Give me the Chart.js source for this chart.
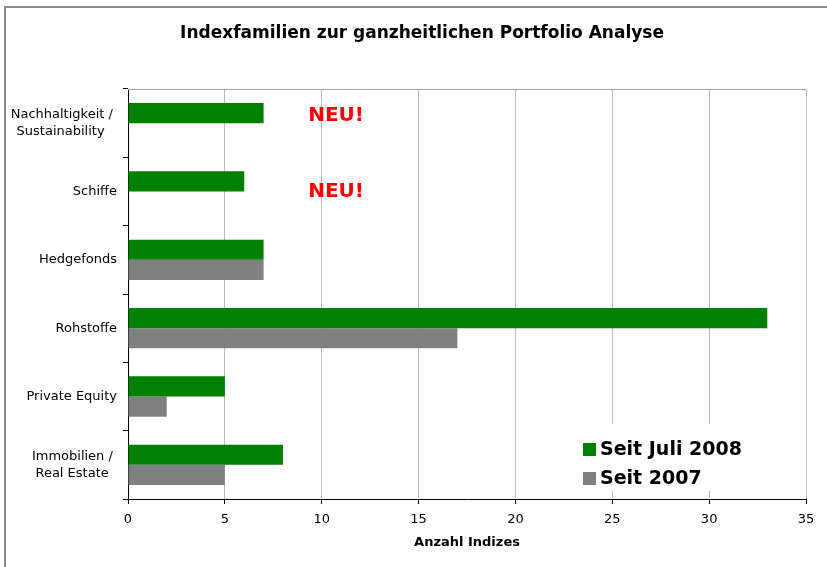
<!DOCTYPE html>
<html>
<head>
<meta charset="utf-8">
<script src="https://cdn.jsdelivr.net/npm/chart.js@4/dist/chart.umd.min.js"></script>
<style>
  html, body { margin: 0; padding: 0; background: #fff; overflow: hidden; }
  #chart { display: block; }
</style>
</head>
<body>
<canvas id="chart" width="827" height="567"></canvas>
<script>
const categories = [
  ['Nachhaltigkeit / ', 'Sustainability   '],
  'Schiffe',
  'Hedgefonds',
  'Rohstoffe',
  'Private Equity',
  ['Immobilien / ', 'Real Estate  ']
]
const seitJuli2008 = [7, 6, 7, 33, 5, 8]
const seit2007 = [null, null, 7, 17, 2, 5]
const xTicks = [0, 5, 10, 15, 20, 25, 30, 35]

const chartTitle = 'Indexfamilien zur ganzheitlichen Portfolio Analyse'
const axisTitle = 'Anzahl Indizes'

// frame, title, NEU! marks and the legend box
const extras = {
  id: 'extras',
  beforeDraw (chart) {
    const { ctx, width, height } = chart
    ctx.save()
    ctx.strokeStyle = '#8c8c8c'
    ctx.lineWidth = 2
    ctx.beginPath()
    ctx.moveTo(5, height)
    ctx.lineTo(5, 7)
    ctx.lineTo(width, 7)
    ctx.stroke()
    ctx.restore()
  },
  beforeDatasetsDraw (chart) {
    const { ctx, chartArea } = chart
    ctx.save()
    ctx.strokeStyle = '#a0a0a0'
    ctx.lineWidth = 1
    ctx.beginPath()
    ctx.moveTo(chartArea.left, chartArea.top + 0.5)
    ctx.lineTo(chartArea.right, chartArea.top + 0.5)
    ctx.stroke()
    ctx.restore()
  },
  afterDraw (chart) {
    const { ctx } = chart
    const x = chart.scales.x
    const y = chart.scales.y
    ctx.save()

    ctx.fillStyle = '#000'
    ctx.font = 'bold 17px "DejaVu Sans"'
    ctx.textAlign = 'center'
    ctx.textBaseline = 'middle'
    ctx.fillText(chartTitle, 422, 34)

    ctx.fillStyle = '#ff0000'
    ctx.font = 'bold 20px "DejaVu Sans"'
    ctx.textAlign = 'left'
    ctx.fillText('NEU!', x.getPixelForValue(9.3), y.getPixelForValue(0) - 7)
    ctx.fillText('NEU!', x.getPixelForValue(9.3), y.getPixelForValue(1))

    // legend sits inside the plot, over the gridlines
    ctx.fillStyle = '#fff'
    ctx.fillRect(578, 424, 170, 67)
    const ds = chart.data.datasets
    ctx.font = 'bold 19px "DejaVu Sans"'
    ds.forEach((d, i) => {
      const top = 443 + i * 29
      ctx.fillStyle = d.backgroundColor
      ctx.fillRect(583, top, 13, 13)
      ctx.fillStyle = '#000'
      ctx.fillText(d.label, 600, top + 7)
    })
    ctx.restore()
  }
}

Chart.defaults.font.family = '"DejaVu Sans"'
Chart.defaults.font.size = 13
Chart.defaults.color = '#000'

new Chart(document.getElementById('chart'), {
  type: 'bar',
  data: {
    labels: categories,
    datasets: [
      { label: 'Seit Juli 2008', data: seitJuli2008, backgroundColor: '#008000' },
      { label: 'Seit 2007', data: seit2007, backgroundColor: '#808080' }
    ]
  },
  options: {
    indexAxis: 'y',
    responsive: false,
    animation: false,
    layout: { padding: { top: 89, right: 21, bottom: 0, left: 0 } },
    datasets: { bar: { barPercentage: 1, categoryPercentage: 0.59 } },
    plugins: {
      legend: { display: false },
      title: { display: false },
      tooltip: { enabled: false }
    },
    scales: {
      x: {
        min: 0,
        max: 35,
        afterBuildTicks (scale) { scale.ticks = xTicks.map(v => ({ value: v })) },
        afterFit (scale) { scale.height = 68 },
        grid: { color: '#b8b8b8', tickColor: '#000', tickLength: 5 },
        border: { color: '#000' },
        ticks: { padding: 8, font: { size: 13 } },
        title: { display: true, text: axisTitle, font: { size: 13, weight: 'bold' }, padding: { top: 0, bottom: 17 } }
      },
      y: {
        afterFit (scale) { scale.width = 128 },
        grid: { drawOnChartArea: false, tickColor: '#000', tickLength: 5, offset: true },
        border: { color: '#000' },
        ticks: { padding: 6, font: { size: 13, lineHeight: 1.3 } }
      }
    }
  },
  plugins: [extras]
})
</script>
</body>
</html>
